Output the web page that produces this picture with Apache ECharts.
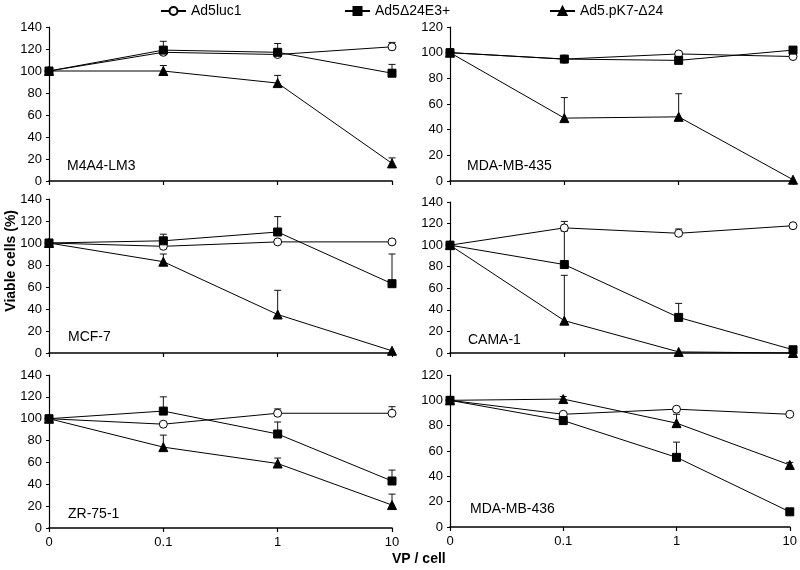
<!DOCTYPE html>
<html>
<head>
<meta charset="utf-8">
<script src="https://cdn.jsdelivr.net/npm/echarts@6/dist/echarts.min.js"></script>
<style>html,body{margin:0;padding:0;background:#fff}#c{width:800px;height:570px}</style>
</head>
<body>
<div id="c"></div>
<script>
const doses = ['0', '0.1', '1', '10'];
const seriesNames = ['Ad5luc1', 'Ad5Δ24E3+', 'Ad5.pK7-Δ24'];
const cellLines = ['M4A4-LM3', 'MDA-MB-435', 'MCF-7', 'CAMA-1', 'ZR-75-1', 'MDA-MB-436'];
const axisMax = [140, 120, 140, 140, 140, 120];
const yTickStep = 20;

// Viable cells (%) per panel, per dose
const luc1Values = [
  [100, 117, 115, 122],
  [100, 95, 99, 97],
  [100, 97, 101, 101],
  [100, 116, 111, 118],
  [100, 95, 105, 105],
  [100, 89, 93, 89]
];
const luc1Err = [
  [0, 2, 3, 4],
  [0, 0, 0, 0],
  [0, 0, 0, 0],
  [0, 6, 4, 0],
  [0, 0, 4, 6],
  [0, 0, 0, 0]
];
const d24Values = [
  [100, 119, 117, 98],
  [100, 95, 94, 102],
  [100, 102, 110, 63],
  [100, 82, 33, 3],
  [100, 107, 86, 43],
  [100, 84, 55, 12]
];
const d24Err = [
  [0, 8, 8, 8],
  [0, 0, 0, 0],
  [0, 6, 14, 27],
  [0, 31, 13, 0],
  [0, 13, 11, 10],
  [0, 0, 12, 0]
];
const pk7Values = [
  [100, 100, 89, 16],
  [100, 49, 50, 1],
  [100, 83, 35, 2],
  [100, 30, 1, 0],
  [100, 74, 59, 21],
  [100, 101, 82, 49]
];
const pk7Err = [
  [0, 5, 7, 5],
  [0, 16, 18, 0],
  [0, 7, 22, 0],
  [0, 42, 0, 0],
  [0, 11, 5, 10],
  [0, 2, 7, 2]
];

const grids = [
  {left: 49, top: 27, width: 343, height: 154},
  {left: 450, top: 27, width: 343, height: 154},
  {left: 49, top: 199, width: 343, height: 154},
  {left: 450, top: 202, width: 343, height: 151},
  {left: 49, top: 375, width: 343, height: 153},
  {left: 450, top: 375, width: 343, height: 152}
];
const labelPos = [[62, 163], [462, 163], [63, 334], [463, 337], [63, 511], [465, 506]];

const font = 'Liberation Sans, Arial, sans-serif';
const xAxes = [], yAxes = [], series = [], titles = [];

const symbols = ['circle', 'rect', 'triangle'];
const symbolSizes = [8, 8, 9];
const symbolColors = ['#fff', '#000', '#000'];
const valueSets = [luc1Values, d24Values, pk7Values];
const errSets = [luc1Err, d24Err, pk7Err];

function errRender(params, api) {
  const e = api.value(2);
  if (!e) return null;
  const p0 = api.coord([api.value(0), api.value(1)]);
  const p1 = api.coord([api.value(0), api.value(1) + e]);
  const st = {stroke: '#111', lineWidth: 1};
  return {
    type: 'group',
    children: [
      {type: 'line', shape: {x1: p0[0], y1: p0[1], x2: p1[0], y2: p1[1]}, style: st},
      {type: 'line', shape: {x1: p1[0] - 3.5, y1: p1[1], x2: p1[0] + 3.5, y2: p1[1]}, style: st}
    ]
  };
}

for (let p = 0; p < 6; p++) {
  const bottomRow = p >= 4;
  xAxes.push({
    gridIndex: p, type: 'category', data: doses, boundaryGap: false,
    axisLine: {lineStyle: {color: '#000', width: 1.6}},
    axisTick: {show: true, inside: false, length: 4, alignWithLabel: true, lineStyle: {color: '#000', width: 1.2}},
    axisLabel: {show: bottomRow, color: '#000', fontSize: 13, fontFamily: font, margin: 8},
    splitLine: {show: false}
  });
  yAxes.push({
    gridIndex: p, type: 'value', min: 0, max: axisMax[p], interval: yTickStep,
    axisLine: {show: true, lineStyle: {color: '#000', width: 1.2}},
    axisTick: {show: true, length: 3, lineStyle: {color: '#000', width: 1}},
    axisLabel: {color: '#000', fontSize: 13, fontFamily: font, margin: 7},
    splitLine: {show: false}
  });
  titles.push({
    text: cellLines[p], left: labelPos[p][0], top: labelPos[p][1] - 9,
    textStyle: {fontSize: 14, fontWeight: 'normal', color: '#000', fontFamily: font}
  });
  for (let s = 0; s < 3; s++) {
    series.push({
      type: 'custom', xAxisIndex: p, yAxisIndex: p, z: 1, silent: true,
      renderItem: errRender,
      data: valueSets[s][p].map((v, i) => [i, v, errSets[s][p][i]]),
      clip: false
    });
  }
  for (let s = 0; s < 3; s++) {
    series.push({
      name: seriesNames[s], type: 'line', xAxisIndex: p, yAxisIndex: p, z: 3,
      data: valueSets[s][p],
      symbol: symbols[s], symbolSize: symbolSizes[s], showSymbol: true,
      itemStyle: {color: symbolColors[s], borderColor: '#000', borderWidth: 1},
      lineStyle: {color: '#000', width: 1},
      clip: false, animation: false
    });
  }
}

const legendLeft = [155, 339, 544];
const legends = seriesNames.map((n, i) => ({
  data: [n], left: legendLeft[i], top: -1, itemWidth: 25, itemHeight: 10, itemGap: 4,
  textStyle: {fontSize: 14, color: '#000', fontFamily: font}, selectedMode: false
}));

const chart = echarts.init(document.getElementById('c'), null, {renderer: 'canvas'});
chart.setOption({
  animation: false,
  backgroundColor: '#fff',
  title: titles,
  legend: legends,
  grid: grids,
  xAxis: xAxes,
  yAxis: yAxes,
  series: series,
  graphic: [
    {type: 'text', left: 4, top: 210, rotation: Math.PI / 2, style: {text: 'Viable cells (%)', fill: '#000', font: 'bold 14px ' + font}},
    {type: 'text', left: 392, top: 552, style: {text: 'VP / cell', fill: '#000', font: 'bold 14px ' + font}}
  ]
});
</script>
</body>
</html>
